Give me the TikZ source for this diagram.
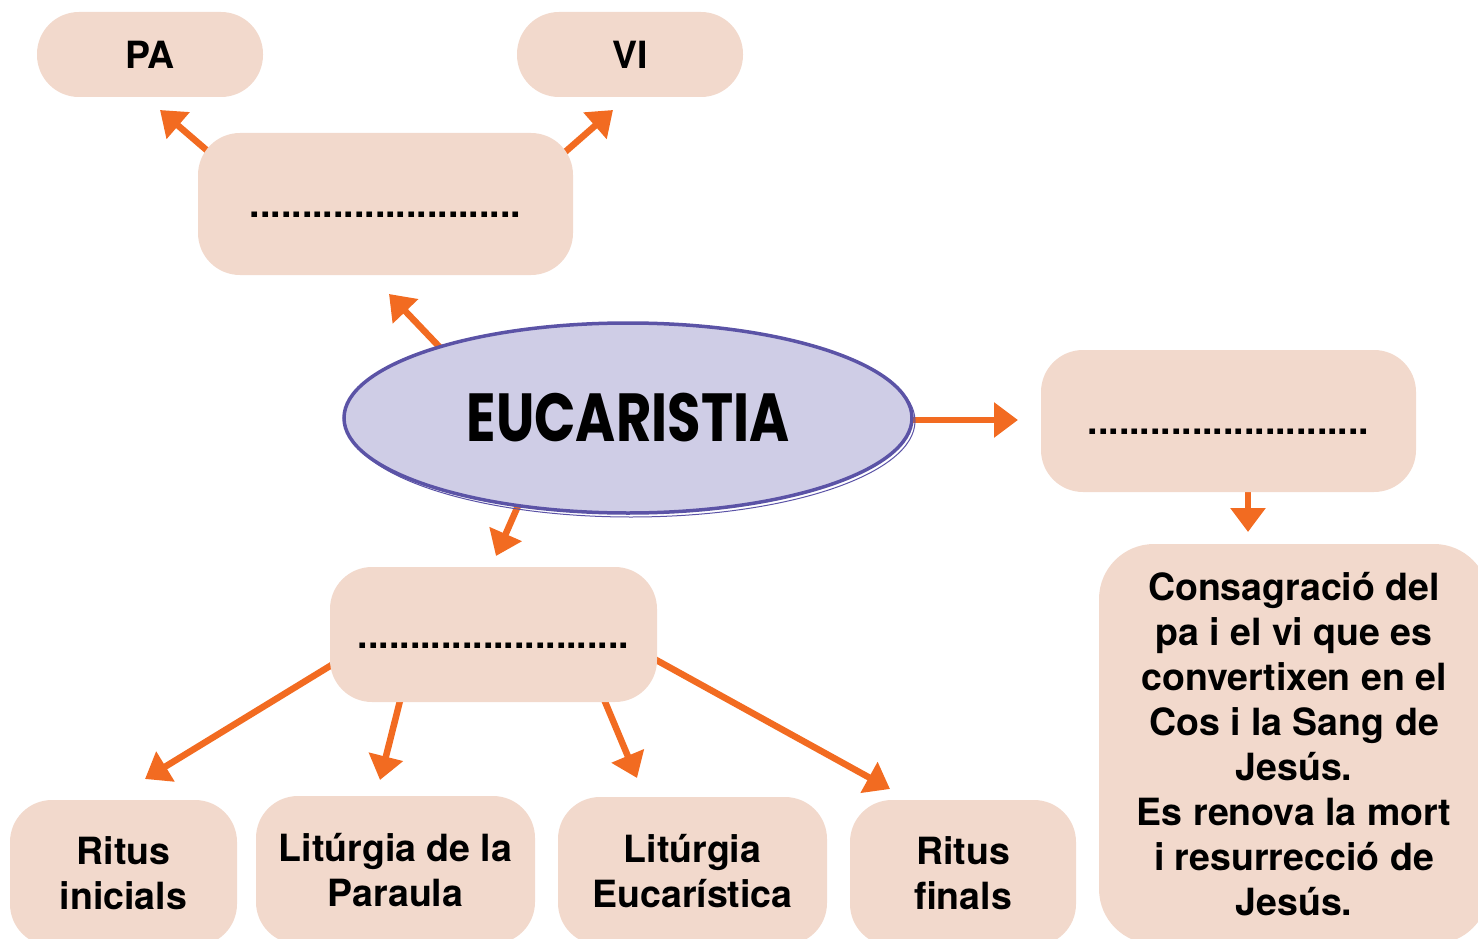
\documentclass[tikz,border=0pt]{standalone}
\usepackage{fontspec}
\setmainfont{TeX Gyre Heros}
\newfontfamily\eucfont{Poppins}
\usetikzlibrary{arrows.meta,shapes.geometric,backgrounds}
\definecolor{peach}{HTML}{F2D9CC}
\definecolor{orangeC}{HTML}{F26B21}
\definecolor{lavfill}{HTML}{CFCDE6}
\definecolor{lavline}{HTML}{5B53A6}
\tikzset{
  box/.style={fill=peach, draw=none, rounded corners=42pt, inner sep=0pt, align=center,
    font=\fontsize{37.5}{45}\selectfont\bfseries},
  arr/.style={draw=orangeC, line width=6.5pt, -{Triangle[length=24pt,width=34pt]}},
}
\begin{document}
\begin{tikzpicture}[x=1pt,y=-1pt]
\clip (0,0) rectangle (1478,939);
% top nodes
\node[box, minimum width=226pt, minimum height=85pt] (pa) at (150,54.5) {PA};
\node[box, minimum width=226pt, minimum height=85pt] (vi) at (630,54.5) {VI};
\node[box, minimum width=375pt, minimum height=142pt] (tb) at (385.5,204) {\vphantom{A}..........................};
% ellipse
\draw[lavline, line width=1pt] (631,421) ellipse (284pt and 96pt);
\node[ellipse, fill=lavfill, draw=lavline, line width=3.5pt, minimum width=568pt, minimum height=190pt, inner sep=0pt,
  font=\eucfont\fontsize{68}{70}\selectfont\bfseries] (ell) at (628,418) {\scalebox{0.8}[1]{EUCARISTIA}};
% right
\node[box, minimum width=375pt, minimum height=142pt] (rb) at (1228.5,421) {\vphantom{A}...........................};
\node[box, minimum width=390pt, minimum height=400pt, rounded corners=55pt] (cons) at (1294,744)
  {Consagració del\\pa i el vi que es\\convertixen en el\\Cos i la Sang de\\Jesús.\\Es renova la mort\\i resurrecció de\\Jesús.};
% middle
\node[box, minimum width=327pt, minimum height=135pt] (mb) at (493.5,634.5) {\vphantom{A}..........................};
% bottom
\node[box, minimum width=227pt, minimum height=146pt] (ri) at (123.5,873) {Ritus\\inicials};
\node[box, minimum width=279pt, minimum height=148pt] (lp) at (395.5,870) {Litúrgia de la\\Paraula};
\node[box, minimum width=269pt, minimum height=148pt] (le) at (692.5,871) {Litúrgia\\Eucarística};
\node[box, minimum width=226pt, minimum height=146pt] (rf) at (963,873) {Ritus\\finals};
% arrow end points
\coordinate (ePA) at (160,110);
\coordinate (eVI) at (613,110);
\coordinate (eTB) at (389,294);
\coordinate (eRB) at (1018,420);
\coordinate (eMB) at (496,556);
\coordinate (eCO) at (1248,532);
\coordinate (eRI) at (145,779);
\coordinate (eLP) at (380,780);
\coordinate (eLE) at (637,778);
\coordinate (eRF) at (890,789);
\begin{scope}[on background layer]
\draw[arr] ([xshift=27pt,yshift=-33pt]tb.north west) -- (ePA);
\draw[arr] ([xshift=-25pt,yshift=-34pt]tb.north east) -- (eVI);
\draw[arr] ([xshift=-178pt,yshift=60pt]ell.center) -- (eTB);
\draw[arr] ([xshift=-20pt,yshift=-2pt]ell.east) -- (eRB);
\draw[arr] ([xshift=-103pt,yshift=-72pt]ell.center) -- (eMB);
\draw[arr] ([xshift=19.5pt,yshift=10pt]rb.south) -- (eCO);
\draw[arr] ([xshift=-127.5pt,yshift=-9.5pt]mb.center) -- (eRI);
\draw[arr] ([xshift=-89.5pt,yshift=-50.5pt]mb.center) -- (eLP);
\draw[arr] ([xshift=104.5pt,yshift=-50.5pt]mb.center) -- (eLE);
\draw[arr] ([xshift=126.5pt,yshift=-5.5pt]mb.center) -- (eRF);
\end{scope}
\end{tikzpicture}
\end{document}
